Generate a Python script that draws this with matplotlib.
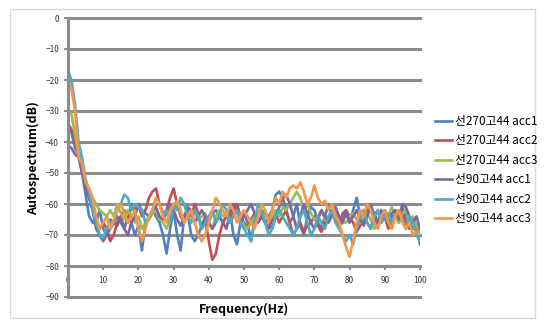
import matplotlib
matplotlib.use("Agg")
import matplotlib.pyplot as plt
from matplotlib.patches import Rectangle

plt.rcParams['font.family'] = ['Noto Sans CJK KR', 'DejaVu Sans']

freq = list(range(101))

# series (dB)
s270_acc1 = [
    -35, -37, -42, -44, -50, -57, -64, -66, -66, -62,
    -68, -70, -65, -66, -67, -64, -68, -64, -66, -70,
    -67, -75, -66, -65, -62, -64, -66, -70, -76, -68,
    -62, -70, -75, -64, -63, -70, -72, -70, -67, -64,
    -66, -63, -62, -64, -66, -64, -62, -70, -73, -66,
    -63, -66, -72, -65, -62, -63, -66, -64, -62, -57,
    -56, -58, -62, -66, -64, -60, -67, -70, -64, -61,
    -62, -66, -68, -64, -60, -64, -62, -67, -66, -63,
    -66, -62, -58, -64, -66, -62, -60, -64, -67, -64,
    -62, -67, -64, -63, -66, -61, -64, -66, -68, -67, -73]
s270_acc2 = [
    -34, -36, -40, -44, -48, -55, -58, -62, -66, -68,
    -66, -68, -72, -70, -66, -64, -62, -66, -60, -62,
    -60, -64, -62, -58, -56, -55, -60, -63, -62, -58,
    -55, -60, -64, -66, -62, -64, -60, -63, -68, -65,
    -72, -78, -76, -70, -66, -64, -65, -62, -60, -64,
    -66, -68, -65, -63, -66, -64, -66, -68, -65, -63,
    -66, -64, -62, -66, -70, -68, -66, -69, -67, -66,
    -64, -67, -69, -66, -64, -62, -65, -67, -63, -62,
    -64, -66, -69, -67, -64, -66, -68, -64, -62, -66,
    -64, -68, -66, -64, -62, -63, -66, -68, -65, -67, -70]
s270_acc3 = [
    -30, -31, -38, -44, -48, -54, -56, -58, -60, -62,
    -63, -64, -62, -64, -60, -63, -65, -62, -64, -66,
    -64, -68, -66, -65, -63, -62, -65, -66, -68, -65,
    -62, -60, -63, -66, -64, -62, -63, -65, -64, -63,
    -66, -68, -64, -62, -64, -63, -66, -64, -62, -64,
    -67, -68, -66, -64, -62, -64, -63, -65, -64, -62,
    -64, -61, -62, -60, -58, -56, -58, -62, -60, -63,
    -65, -64, -62, -65, -66, -64, -63, -65, -66, -66,
    -64, -63, -65, -66, -64, -63, -65, -68, -67, -64,
    -62, -64, -61, -64, -66, -63, -62, -66, -64, -67, -69]
s90_acc1 = [
    -41, -42, -44, -45, -50, -55, -58, -62, -68, -70,
    -72, -70, -68, -66, -64, -66, -68, -70, -66, -64,
    -60, -62, -63, -64, -62, -61, -64, -65, -63, -60,
    -62, -65, -67, -64, -61, -62, -66, -64, -62, -64,
    -66, -68, -66, -64, -66, -68, -63, -60, -62, -66,
    -64, -62, -60, -63, -66, -64, -62, -66, -68, -64,
    -61, -58, -57, -60, -64, -68, -64, -60, -63, -66,
    -68, -65, -62, -64, -66, -63, -61, -64, -66, -62,
    -66, -64, -62, -65, -67, -64, -61, -63, -66, -62,
    -64, -66, -63, -62, -65, -60, -61, -64, -66, -64, -68]
s90_acc2 = [
    -17, -20, -28, -40, -45, -52, -56, -62, -66, -70,
    -71, -68, -66, -66, -62, -60, -57, -58, -62, -60,
    -61, -62, -66, -64, -62, -58, -60, -64, -62, -66,
    -60, -62, -58, -60, -64, -66, -62, -64, -68, -66,
    -64, -62, -66, -64, -60, -62, -66, -64, -62, -66,
    -68, -70, -72, -66, -60, -62, -66, -70, -68, -64,
    -62, -64, -66, -68, -70, -68, -64, -62, -66, -70,
    -68, -64, -66, -68, -64, -62, -66, -68, -70, -72,
    -70, -73, -68, -64, -62, -66, -68, -64, -62, -66,
    -64, -63, -66, -64, -62, -65, -68, -64, -66, -70, -72]
s90_acc3 = [
    -20, -23, -30, -45, -47, -53, -55, -58, -64, -68,
    -66, -64, -68, -65, -62, -60, -63, -66, -64, -62,
    -68, -72, -68, -64, -62, -58, -60, -64, -66, -62,
    -60, -59, -62, -66, -64, -62, -66, -70, -72, -70,
    -66, -62, -58, -60, -62, -64, -60, -62, -66, -64,
    -62, -64, -66, -68, -64, -60, -62, -66, -62, -58,
    -60, -56, -58, -55, -54, -55, -53, -56, -60, -58,
    -54, -58, -60, -59, -62, -60, -64, -66, -70, -74,
    -77, -72, -66, -62, -64, -60, -62, -66, -68, -64,
    -62, -66, -68, -64, -62, -66, -68, -66, -70, -69, -70]

labels = ['선270고44 acc1', '선270고44 acc2', '선270고44 acc3',
          '선90고44 acc1', '선90고44 acc2', '선90고44 acc3']
series = [s270_acc1, s270_acc2, s270_acc3, s90_acc1, s90_acc2, s90_acc3]
colors = ['#4F81BD', '#C0504D', '#9BBB59', '#8064A2', '#4BACC6', '#F79646']

yticks = list(range(0, -100, -10))
xticks = list(range(0, 101, 10))

fig = plt.figure(figsize=(5.44, 3.27), dpi=100)
fig.patches.append(Rectangle((10 / 544, 9 / 327), 525 / 544, 309 / 327,
                             transform=fig.transFigure, fill=False,
                             edgecolor='#d9d9d9', linewidth=1))
ax = fig.add_axes([68 / 544, 1 - 297 / 327, 352 / 544, 279 / 327])

grid_c = '#8c8c8c'
for y in yticks:
    ax.axhline(y, color=grid_c, linewidth=2.2, zorder=0.5, clip_on=False)

for s, c, lab in zip(series, colors, labels):
    ax.plot(freq, s, color=c, linewidth=1.9, label=lab, zorder=2)

ax.set_xlim(0, 100)
ax.set_ylim(-90, 0)
ax.set_xticks(xticks)
ax.set_yticks(yticks)
ax.tick_params(axis='both', labelsize=6, colors=grid_c, labelcolor='#333333',
               length=3, width=1.5)
ax.tick_params(axis='x', pad=4)

for side in ['top', 'right']:
    ax.spines[side].set_visible(False)
ax.spines['left'].set_color(grid_c)
ax.spines['left'].set_linewidth(2.2)
ax.spines['bottom'].set_position(('data', -80))
ax.spines['bottom'].set_color(grid_c)
ax.spines['bottom'].set_linewidth(2.2)

fig.text(33 / 544, 1 - 158 / 327, 'Autospectrum(dB)', rotation=90,
         ha='center', va='center', fontsize=9, fontweight='bold')
fig.text(244 / 544, 1 - 309 / 327, 'Frequency(Hz)', ha='center',
         va='center', fontsize=9, fontweight='bold')

fig.legend(loc='upper left', bbox_to_anchor=(430 / 544, 1 - 110 / 327),
           frameon=False, fontsize=8.5, handlelength=1.5, handletextpad=0.2,
           labelspacing=0.55, borderaxespad=0)

fig.savefig('out.png', dpi=100)
